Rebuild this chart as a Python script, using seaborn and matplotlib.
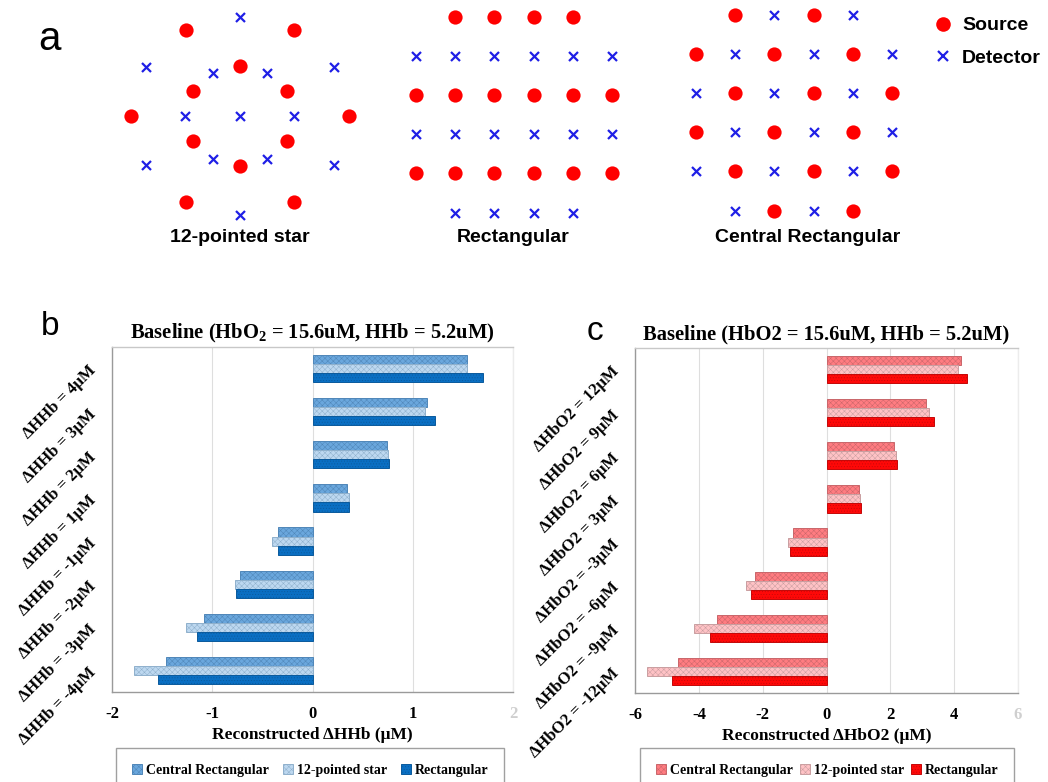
import numpy as np
import pandas as pd
import matplotlib
matplotlib.use("Agg")
import matplotlib.pyplot as plt
from matplotlib.patches import Patch
from matplotlib.lines import Line2D
import seaborn as sns

sns.set_theme(style="white")
plt.rcParams["font.family"] = ["Liberation Serif", "DejaVu Serif"]
plt.rcParams["text.color"] = "black"
plt.rcParams["axes.labelcolor"] = "black"
plt.rcParams["xtick.color"] = "black"
plt.rcParams["ytick.color"] = "black"
plt.rcParams["mathtext.fontset"] = "custom"
plt.rcParams["mathtext.rm"] = "Liberation Serif:bold"
plt.rcParams["mathtext.bf"] = "Liberation Serif:bold"
plt.rcParams["mathtext.it"] = "Liberation Serif:bold:italic"
plt.rcParams["hatch.linewidth"] = 0.35

# ---------------- probe layouts ----------------
# 12-pointed star: offsets (px) from the array centre, y pointing down
star_sources = [(-54, -86), (54, -86), (0, -50), (-47, -25), (47, -25), (-109, 0),
                (109, 0), (-47, 25), (47, 25), (0, 50), (-54, 86), (54, 86)]
star_detectors = [(0, -99), (-94, -49), (94, -49), (-27, -43), (27, -43), (-55, 0), (0, 0),
                  (54, 0), (-27, 43), (27, 43), (-94, 49), (94, 49), (0, 99)]

# grid layouts: S = source, D = detector, . = empty
rect_grid = [
    ".SSSS.",
    "DDDDDD",
    "SSSSSS",
    "DDDDDD",
    "SSSSSS",
    ".DDDD.",
]
central_grid = [
    ".SDSD.",
    "SDSDSD",
    "DSDSDS",
    "SDSDSD",
    "DSDSDS",
    ".DSDS.",
]
layout_titles = ["12-pointed star", "Rectangular", "Central Rectangular"]

# ---------------- reconstruction results ----------------
layouts = ["Central Rectangular", "12-pointed star", "Rectangular"]

hhb_levels = ["ΔHHb = 4μM", "ΔHHb = 3μM", "ΔHHb = 2μM", "ΔHHb = 1μM",
              "ΔHHb = -1μM", "ΔHHb = -2μM", "ΔHHb = -3μM", "ΔHHb = -4μM"]
hhb_central = [1.54, 1.14, 0.74, 0.34, -0.34, -0.72, -1.08, -1.46]
hhb_star = [1.54, 1.12, 0.75, 0.36, -0.40, -0.77, -1.26, -1.78]
hhb_rect = [1.70, 1.22, 0.76, 0.36, -0.34, -0.76, -1.15, -1.54]

hbo2_levels = ["ΔHbO2 = 12μM", "ΔHbO2 = 9μM", "ΔHbO2 = 6μM", "ΔHbO2 = 3μM",
               "ΔHbO2 = -3μM", "ΔHbO2 = -6μM", "ΔHbO2 = -9μM", "ΔHbO2 = -12μM"]
hbo2_central = [4.22, 3.13, 2.11, 1.02, -1.06, -2.25, -3.44, -4.64]
hbo2_star = [4.12, 3.20, 2.17, 1.06, -1.20, -2.52, -4.14, -5.63]
hbo2_rect = [4.40, 3.37, 2.22, 1.09, -1.14, -2.38, -3.64, -4.85]

hhb_ticks = [-2, -1, 0, 1, 2]
hbo2_ticks = [-6, -4, -2, 0, 2, 4, 6]

blue_fill = ["#6aa7dd", "#bdd8f0", "#0a6fc3"]
blue_edge = ["#4f86b8", "#8fb0cc", "#0a5a9c"]
red_fill = ["#ff7c81", "#ffc2c5", "#ff0808"]
red_edge = ["#c9666a", "#c99ea0", "#c40808"]
hatches = ["xxxxxx", "xxxxxx", "......"]

SRC = "#ff0000"
DET = "#1f1fe6"

W, H = 1048, 782
fig = plt.figure(figsize=(W / 100, H / 100), dpi=100)
fig.patch.set_facecolor("white")

# ---------------- panel a ----------------
ax_a = fig.add_axes([0, 1 - 250 / H, 1, 250 / H])
ax_a.set_xlim(0, W)
ax_a.set_ylim(250, 0)
ax_a.axis("off")

pts = []
cx, cy = 240, 116
for dx, dy in star_sources:
    pts.append((cx + dx, cy + dy, "Source"))
for dx, dy in star_detectors:
    pts.append((cx + dx, cy + dy, "Detector"))
step = 39.2
for grid, (x0, y0) in [(rect_grid, (416, 16.5)), (central_grid, (696, 14.5))]:
    for r, row in enumerate(grid):
        for c, ch in enumerate(row):
            if ch == "S":
                pts.append((x0 + c * step, y0 + r * step, "Source"))
            elif ch == "D":
                pts.append((x0 + c * step, y0 + r * step, "Detector"))
probes = pd.DataFrame(pts, columns=["x", "y", "kind"])

sns.scatterplot(data=probes[probes.kind == "Source"], x="x", y="y", color=SRC,
                marker="o", s=105, linewidth=0, ax=ax_a, legend=False)
sns.scatterplot(data=probes[probes.kind == "Detector"], x="x", y="y", color=DET,
                marker="x", s=42, linewidth=1.6, ax=ax_a, legend=False)
ax_a.set_xlabel("")
ax_a.set_ylabel("")

for title, xc in zip(layout_titles, [240, 513, 808]):
    ax_a.text(xc, 238, title, ha="center", va="center", fontsize=14,
              fontweight="bold", family="Liberation Sans", color="black")

key = [Line2D([], [], linestyle="none", marker="o", markersize=10.5, color=SRC,
              markeredgewidth=0),
       Line2D([], [], linestyle="none", marker="x", markersize=6.5, color=DET,
              markeredgewidth=1.6)]
ax_a.legend(key, ["Source", "Detector"], loc="upper left",
            bbox_to_anchor=(925 / W, 1 - 9 / 250), frameon=False,
            prop={"family": "Liberation Sans", "weight": "bold", "size": 14},
            handlelength=1.0, handletextpad=0.5, labelspacing=0.75,
            borderaxespad=0)

fig.text(49 / W, 1 - 39 / H, "a", ha="center", va="center", fontsize=29,
         family="Liberation Sans")


def style_bar(bar, edge, hatch):
    bar.set_edgecolor(edge)
    bar.set_linewidth(0.7)
    bar.set_hatch(hatch)
    if hasattr(bar, "set_hatchcolor"):
        bar.set_hatchcolor(edge)


# ---------------- panels b and c ----------------
def result_panel(rect, levels, series, ticks, fills, edges, title, xlabel,
                 letter, letter_xy, legend_box, colspace):
    ax = fig.add_axes(rect)
    df = pd.DataFrame({
        "level": levels * 3,
        "value": series[0] + series[1] + series[2],
        "layout": np.repeat(layouts, len(levels)),
    })
    sns.barplot(data=df, x="value", y="level", hue="layout", hue_order=layouts,
                order=levels, palette=fills, orient="h", width=0.63, gap=0,
                saturation=1, legend=False, ax=ax, zorder=3)
    for cont, ec, ht in zip(ax.containers, edges, hatches):
        for bar in cont:
            style_bar(bar, ec, ht)
    ax.set_xlim(ticks[0], ticks[-1])
    ax.set_xticks(ticks)
    ax.set_xticklabels([str(t) for t in ticks], fontsize=12, fontweight="bold")
    ax.get_xticklabels()[-1].set_color("#cfcfcf")
    ax.set_yticks(range(len(levels)))
    ax.set_yticklabels(levels, rotation=45, ha="right", va="center",
                       rotation_mode="anchor", fontsize=12, fontweight="bold")
    ax.tick_params(axis="both", length=0)
    ax.tick_params(axis="x", pad=10)
    ax.tick_params(axis="y", pad=13)
    ax.xaxis.grid(True, color="#dedede", linewidth=0.8, zorder=0)
    ax.set_axisbelow(True)
    ax.set_xlabel(xlabel, fontsize=12.5, fontweight="bold", labelpad=4)
    ax.set_ylabel("")
    ax.set_title(title, fontsize=14.8, fontweight="bold", pad=6)
    for side, col in [("left", "#9a9a9a"), ("bottom", "#9a9a9a"),
                      ("top", "#c8c8c8"), ("right", "#ececec")]:
        ax.spines[side].set_visible(True)
        ax.spines[side].set_color(col)
        ax.spines[side].set_linewidth(1.0)
    handles = []
    for f, e, h in zip(fills, edges, hatches):
        p = Patch(facecolor=f, edgecolor=e, hatch=h, linewidth=0.7)
        if hasattr(p, "set_hatchcolor"):
            p.set_hatchcolor(e)
        handles.append(p)
    fig.legend(handles, layouts, loc="upper center", bbox_to_anchor=legend_box,
               ncol=3, frameon=True, fancybox=False, edgecolor="#a0a0a0",
               prop={"family": "Liberation Serif", "weight": "bold", "size": 10},
               handlelength=0.75, handleheight=0.75, handletextpad=0.25,
               columnspacing=colspace, borderpad=1.15, borderaxespad=0,
               framealpha=1)
    fig.text(letter_xy[0] / W, 1 - letter_xy[1] / H, letter, ha="center",
             va="center", fontsize=24, family="Liberation Sans")
    return ax


result_panel([112 / W, 1 - 692 / H, 401 / W, 345 / H], hhb_levels,
             [hhb_central, hhb_star, hhb_rect], hhb_ticks, blue_fill, blue_edge,
             "Baseline (HbO$_{\\mathrm{2}}$ = 15.6uM, HHb = 5.2uM)",
             "Reconstructed ΔHHb (μM)", "b", (50, 327), (310 / W, 1 - 748 / H), 1.0)

result_panel([635 / W, 1 - 693 / H, 383 / W, 345 / H], hbo2_levels,
             [hbo2_central, hbo2_star, hbo2_rect], hbo2_ticks, red_fill, red_edge,
             "Baseline (HbO2 = 15.6uM, HHb = 5.2uM)",
             "Reconstructed ΔHbO2 (μM)", "c", (595, 331), (827 / W, 1 - 748 / H), 0.5)

fig.savefig("out.png", dpi=100)
